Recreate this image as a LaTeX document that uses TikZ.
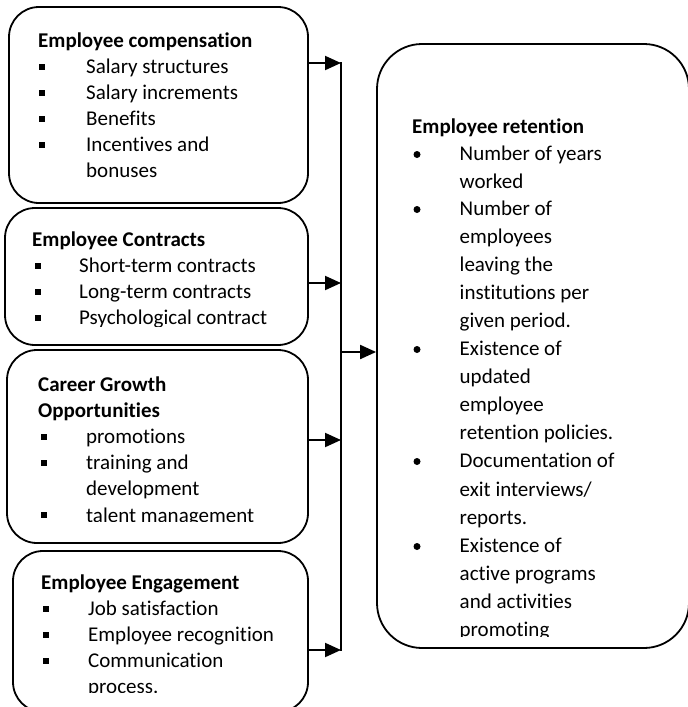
\documentclass[tikz,border=0pt]{standalone}
\usepackage{fontspec}
\setmainfont{Carlito}[Ligatures={NoCommon,NoContextual},Contextuals=NoAlternate]
\usetikzlibrary{arrows.meta}
\begin{document}
\begin{tikzpicture}[x=1pt,y=-1pt,
  box/.style={draw, line width=1.8pt, rounded corners=30pt, inner sep=0pt},
  txt/.style={anchor=base west, inner sep=0pt, font=\fontsize{21}{26}\selectfont},
  ttl/.style={anchor=base west, inner sep=0pt, font=\fontsize{21}{26}\selectfont\bfseries},
  sq/.style={fill, minimum size=6pt, inner sep=0pt},
  rdot/.style={circle, fill, minimum size=7pt, inner sep=0pt},
  arr/.style={line width=2pt, -{Triangle[length=16pt,width=14pt]}},
  con/.style={line width=2pt}]
\useasboundingbox (0,0) rectangle (688,707);
\clip (0,0) rectangle (688,707);

% boxes
\node[box, minimum width=299pt, minimum height=196pt] (b1) at (158.5,105) {};
\node[box, minimum width=303pt, minimum height=137pt] (b2) at (156.5,276.5) {};
\node[box, minimum width=301pt, minimum height=193pt] (b3) at (157.5,446.5) {};
\node[box, minimum width=295pt, minimum height=161pt] (b4) at (160.5,631.5) {};
\node[box, rounded corners=45pt, minimum width=312pt, minimum height=604pt] (rb) at (533,346) {};

% box 1 text
\node[ttl] (t1) at (38,47) {Employee compensation};
\node[sq] (s11) at (42,66.5) {};
\node[txt] (l11) at (86,73) {Salary structures};
\node[sq] (s12) at (42,92.5) {};
\node[txt] (l12) at (86,99) {Salary increments};
\node[sq] (s13) at (42,118.5) {};
\node[txt] (l13) at (86,125) {Benefits};
\node[sq] (s14) at (42,144.5) {};
\node[txt] (l14) at (86,151) {Incentives and};
\node[txt] (l15) at (86,177) {bonuses};

% box 2 text
\begin{scope}
\clip (0,200) rectangle (330,326);
\node[ttl] (t2) at (32,246) {Employee Contracts};
\node[sq] (s21) at (38,265.5) {};
\node[txt] (l21) at (79,272) {Short-term contracts};
\node[sq] (s22) at (38,291.5) {};
\node[txt] (l22) at (79,298) {Long-term contracts};
\node[sq] (s23) at (38,317.5) {};
\node[txt] (l23) at (79,324) {Psychological contract};
\end{scope}

% box 3 text
\begin{scope}
\clip (0,350) rectangle (330,521.5);
\node[ttl] (t3a) at (38,391) {Career Growth};
\node[ttl] (t3b) at (38,417) {Opportunities};
\node[sq] (s31) at (44,436.5) {};
\node[txt] (l31) at (86,443) {promotions};
\node[sq] (s32) at (44,462.5) {};
\node[txt] (l32) at (86,469) {training and};
\node[txt] (l33) at (86,495) {development};
\node[sq] (s33) at (44,514.5) {};
\node[txt] (l34) at (86,522) {talent management};
\end{scope}

% box 4 text
\begin{scope}
\clip (0,550) rectangle (330,692.5);
\node[ttl] (t4) at (41,589) {Employee Engagement};
\node[sq] (s41) at (46,608.5) {};
\node[txt] (l41) at (88,615) {Job satisfaction};
\node[sq] (s42) at (46,634.5) {};
\node[txt] (l42) at (88,641) {Employee recognition};
\node[sq] (s43) at (46,660.5) {};
\node[txt] (l43) at (88,667) {Communication};
\node[txt] (l44) at (88,693) {process.};
\end{scope}

% right box text
\begin{scope}
\clip (380,50) rectangle (688,636.5);
\node[ttl] (r0) at (412,133) {Employee retention};
\node[rdot] (d1) at (417,154.5) {};
\node[txt] (r1) at (459.5,160) {Number of years};
\node[txt] (r2) at (459.5,188) {worked};
\node[rdot] (d2) at (417,209.5) {};
\node[txt] (r3) at (459.5,215) {Number of};
\node[txt] (r4) at (459.5,243) {employees};
\node[txt] (r5) at (459.5,271) {leaving the};
\node[txt] (r6) at (459.5,299) {institutions per};
\node[txt] (r7) at (459.5,327) {given period.};
\node[rdot] (d3) at (417,349.5) {};
\node[txt] (r8) at (459.5,355) {Existence of};
\node[txt] (r9) at (459.5,383) {updated};
\node[txt] (r10) at (459.5,411) {employee};
\node[txt] (r11) at (459.5,439) {retention policies.};
\node[rdot] (d4) at (417,461.5) {};
\node[txt] (r12) at (459.5,467) {Documentation of};
\node[txt] (r13) at (459.5,496) {exit interviews/};
\node[txt] (r14) at (459.5,524) {reports.};
\node[rdot] (d5) at (417,546.5) {};
\node[txt] (r15) at (459.5,552) {Existence of};
\node[txt] (r16) at (459.5,580) {active programs};
\node[txt] (r17) at (459.5,608) {and activities};
\node[txt] (r18) at (459.5,636) {promoting};
\end{scope}

% connectors
\coordinate (j1) at (341,63);
\coordinate (j2) at (341,283);
\coordinate (j3) at (341,440);
\coordinate (j4) at (341,650);
\coordinate (jm) at (341,352);
\draw[con] ([yshift=1pt]j1) -- ([yshift=-1pt]j4);
\draw[arr] (b1.east |- j1) -- (j1);
\draw[arr] (b2.east |- j2) -- (j2);
\draw[arr] (b3.east |- j3) -- (j3);
\draw[arr] (b4.east |- j4) -- (j4);
\draw[arr] (jm) -- (rb.west |- jm);
\end{tikzpicture}
\end{document}
